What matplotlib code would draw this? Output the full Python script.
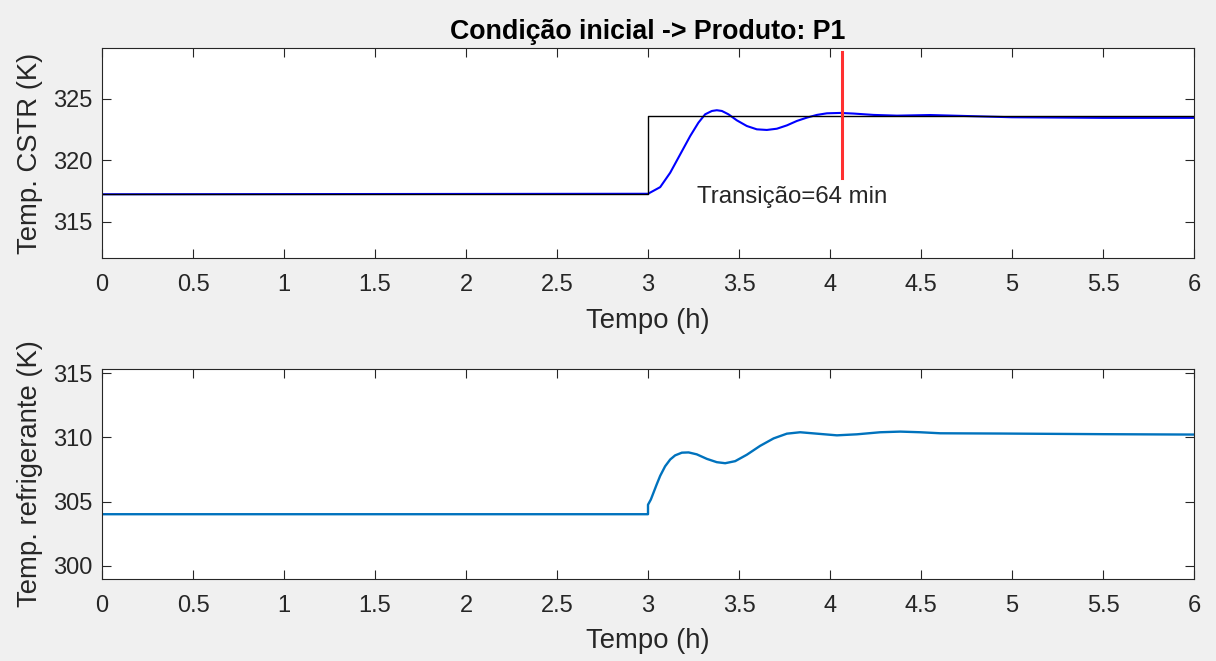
import matplotlib.pyplot as plt

plt.rcParams['font.family'] = ['Liberation Sans', 'DejaVu Sans']

# temperatura do reator (h, K)
t_cstr = [0, 3.0, 3.067, 3.122, 3.177, 3.232, 3.277, 3.314, 3.351, 3.378, 3.406,
          3.442, 3.488, 3.543, 3.598, 3.653, 3.708, 3.763, 3.818, 3.873, 3.928,
          3.983, 4.056, 4.129, 4.239, 4.368, 4.55, 4.75, 5.0, 5.5, 6.0]
T_cstr = [317.25, 317.29, 317.83, 319.0, 320.49, 321.98, 323.06, 323.74, 324.01,
          324.07, 324.01, 323.74, 323.25, 322.79, 322.52, 322.47, 322.57, 322.84,
          323.2, 323.47, 323.69, 323.82, 323.85, 323.8, 323.69, 323.63, 323.68,
          323.6, 323.5, 323.45, 323.45]

# setpoint
t_sp = [0, 3, 3, 6]
T_sp = [317.25, 317.25, 323.58, 323.58]

# fim da transição (3 h + 64 min)
t_trans = 3 + 64 / 60
T_trans = [318.6, 328.8]

# temperatura do refrigerante
t_ref = [0, 3.0, 3.0, 3.0155, 3.030, 3.048, 3.067, 3.094, 3.122, 3.149, 3.186,
         3.223, 3.268, 3.323, 3.378, 3.424, 3.479, 3.543, 3.616, 3.690, 3.763,
         3.836, 3.928, 4.038, 4.148, 4.276, 4.386, 4.496, 4.606, 4.935, 5.5, 6.0]
T_ref = [304.02, 304.02, 304.76, 305.16, 305.69, 306.35, 307.01, 307.75, 308.28,
         308.6, 308.81, 308.83, 308.68, 308.33, 308.07, 307.99, 308.15, 308.65,
         309.34, 309.92, 310.29, 310.4, 310.29, 310.16, 310.24, 310.4, 310.45,
         310.4, 310.32, 310.3, 310.25, 310.22]

xticks = [0, 0.5, 1, 1.5, 2, 2.5, 3, 3.5, 4, 4.5, 5, 5.5, 6]
xtick_labels = ['0', '0.5', '1', '1.5', '2', '2.5', '3', '3.5', '4', '4.5', '5', '5.5', '6']

cinza = '#262626'

fig = plt.figure(figsize=(12.16, 6.61), dpi=100, facecolor='#f0f0f0')
ax1 = fig.add_axes([0.0839, 0.6101, 0.898, 0.3169])
ax2 = fig.add_axes([0.0839, 0.1245, 0.898, 0.3168])


def estilo(ax, ylabel, yticks):
    ax.set_xlim(0, 6)
    ax.set_xticks(xticks)
    ax.set_xticklabels(xtick_labels)
    ax.set_yticks(yticks)
    ax.set_yticklabels([str(v) for v in yticks])
    ax.tick_params(direction='in', length=6.5, width=0.8, colors=cinza,
                   labelsize=17, top=True, right=True)
    ax.tick_params(axis='x', pad=12)
    ax.tick_params(axis='y', pad=7)
    for s in ax.spines.values():
        s.set_color(cinza)
        s.set_linewidth(0.8)
    ax.set_xlabel('Tempo (h)', fontsize=19.8, color=cinza, labelpad=8)
    ax.set_ylabel(ylabel, fontsize=19.8, color=cinza, labelpad=7)


# gráfico 1 - CSTR
ax1.plot(t_cstr, T_cstr, color='#0000ff', lw=1.5)
ax1.plot(t_sp, T_sp, color='k', lw=1.0)
ax1.plot([t_trans, t_trans], T_trans, color='#ff3030', lw=2.2)
ax1.text(3.27, 317.05, 'Transição=64 min', fontsize=17.3, color=cinza, ha='left', va='center')
ax1.set_ylim(312.1, 329.1)
estilo(ax1, 'Temp. CSTR (K)', [315, 320, 325])
ax1.set_title('Condição inicial -> Produto: P1', fontsize=19.3, fontweight='bold',
              color='k', pad=7)

# gráfico 2 - refrigerante
ax2.plot(t_ref, T_ref, color='#0072bd', lw=1.7)
ax2.set_ylim(299.0, 315.3)
estilo(ax2, 'Temp. refrigerante (K)', [300, 305, 310, 315])

fig.savefig('out.png', dpi=100, facecolor=fig.get_facecolor())
